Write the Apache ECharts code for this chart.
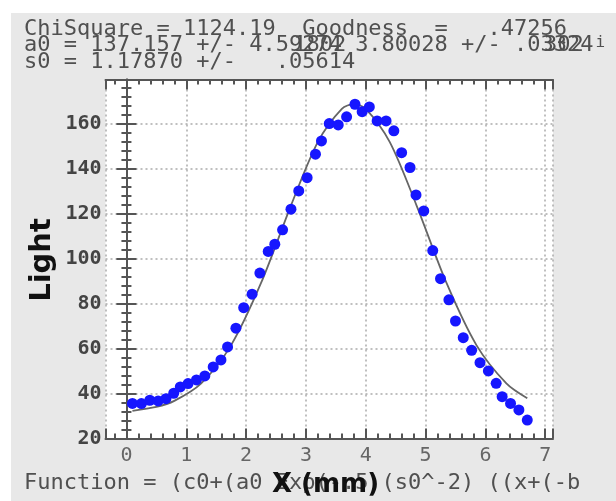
<!DOCTYPE html>
<html>
<head>
<meta charset="utf-8">
<script src="https://cdn.jsdelivr.net/npm/echarts@6/dist/echarts.min.js"></script>
<style>
  html, body { margin: 0; padding: 0; background: #fff; }
  #main { position: absolute; left: 11px; top: 13px; width: 605px; height: 488px; }
</style>
</head>
<body>
<div id="main"></div>
<script>
// measured points (mm, light)
const xs = [0.10, 0.25, 0.39, 0.53, 0.66, 0.79, 0.90, 1.03, 1.17, 1.31, 1.45, 1.58, 1.69, 1.83, 1.96, 2.10, 2.23,
  2.37, 2.48, 2.61, 2.75, 2.88, 3.02, 3.16, 3.26, 3.39, 3.54, 3.68, 3.82, 3.94, 4.06, 4.19, 4.34, 4.47, 4.60,
  4.74, 4.84, 4.97, 5.12, 5.25, 5.39, 5.50, 5.63, 5.77, 5.91, 6.05, 6.18, 6.28, 6.42, 6.56, 6.70]
const ys = [35.6, 35.5, 37.0, 36.7, 37.7, 40.1, 42.9, 44.4, 46.0, 47.8, 51.8, 54.9, 60.7, 69.0, 78.1, 84.1, 93.5,
  103.1, 106.3, 112.7, 121.9, 130.0, 135.9, 146.3, 152.2, 159.9, 159.3, 162.9, 168.5, 165.2, 167.3, 161.1, 161.1, 156.7, 147.0,
  140.4, 128.2, 121.1, 103.5, 91.0, 81.6, 72.2, 64.8, 59.2, 53.7, 50.0, 44.5, 38.6, 35.6, 32.7, 28.2]

// fitted curve
const fitX = [0.1, 0.5, 0.8, 1.25, 1.75, 2.25, 2.75, 3.2, 3.6, 3.8, 4.0, 4.4, 4.85, 5.35, 5.85, 6.35, 6.7]
const fitY = [32.3, 34.0, 36.7, 44.5, 61.5, 89.1, 123.5, 151.8, 166.5, 168.5, 166.5, 151.8, 123.5, 89.1, 61.5, 44.5, 37.9]

const header = [
  'ChiSquare = 1124.19  Goodness  =   .47256',
  'a0 = 137.157 +/- 4.59274 3.80028 +/- .03324',
  's0 = 1.17870 +/-   .05614'
]
const footer = 'Function = (c0+(a0 Exp(-.5 (s0^-2) ((x+(-b'

const OX = 11, OY = 13
const CW = 13.2 // char width of the header font
const mono = '"DejaVu Sans Mono", monospace'
const txtColor = '#505050'
const axisColor = '#555'

function txt(s, x, y, extra) {
  return {
    type: 'text', left: x - OX, top: y - OY - 11, z: 100,
    style: Object.assign({ text: s, fill: txtColor, font: '22px ' + mono }, extra || {})
  }
}

function xAx(pos, step, len, major) {
  return {
    type: 'value', position: pos, min: -0.35, max: 7.13, minInterval: step, maxInterval: step,
    axisLine: { show: major, lineStyle: { color: axisColor, width: 2 } },
    axisTick: { show: true, inside: true, length: len, lineStyle: { color: axisColor, width: 2 } },
    axisLabel: {
      show: major && pos === 'bottom', color: '#666', fontFamily: mono, fontSize: 20, margin: 7,
      formatter: v => (Math.abs(v - Math.round(v)) < 1e-6 ? String(Math.round(v)) : '')
    },
    splitLine: { show: major && pos === 'bottom', lineStyle: { color: '#aaa', type: [2, 3], width: 1.5 } }
  }
}

function yAx(pos, step, len, major) {
  return {
    type: 'value', position: pos, min: 20, max: 179.5, minInterval: step, maxInterval: step,
    axisLine: { show: major, lineStyle: { color: axisColor, width: 2 } },
    axisTick: { show: true, inside: true, length: len, lineStyle: { color: axisColor, width: 2 } },
    axisLabel: {
      show: major && pos === 'left', color: '#444', fontFamily: mono, fontWeight: 'bold', fontSize: 20, margin: 4,
      formatter: v => (v % 20 === 0 && v <= 160 ? String(v) : '')
    },
    splitLine: { show: major && pos === 'left', lineStyle: { color: '#aaa', type: [2, 3], width: 1.5 } }
  }
}

const chart = echarts.init(document.getElementById('main'))
chart.setOption({
  backgroundColor: '#e8e8e8',
  animation: false,
  grid: { left: 94.5, top: 66.5, right: 63, bottom: 62.5, show: true, backgroundColor: '#fff', borderWidth: 0, outerBoundsMode: 'none' },
  xAxis: [xAx('bottom', 1, 10, true), xAx('bottom', 0.2, 5, false), xAx('top', 1, 10, true), xAx('top', 0.2, 5, false)],
  yAxis: [yAx('left', 20, 10, true), yAx('left', 4, 5, false), yAx('right', 20, 10, true), yAx('right', 4, 5, false)],
  graphic: [
    txt(header[0], 24, 29),
    txt(header[1], 24, 45.5),
    // overprinted digits of the neighbouring field
    txt('1802', 24 + 20.4 * CW, 45.5),
    txt('302', 24 + 39.4 * CW, 45.5),
    txt('i', 24 + 43.3 * CW, 45.5, { font: '16px ' + mono }),
    txt(header[2], 24, 62),
    txt(footer, 24, 483),
    {
      type: 'text', left: 272 - OX, top: 487 - OY - 15, z: 101,
      style: { text: 'X (mm)', fill: '#111', font: 'bold 26px "DejaVu Sans"' }
    },
    {
      type: 'text', x: 42 - OX, y: 260 - OY, rotation: Math.PI / 2, z: 101,
      style: { text: 'Light', fill: '#111', font: 'bold 29px "DejaVu Sans"', align: 'center', verticalAlign: 'middle' }
    }
  ],
  series: [
    {
      type: 'line', xAxisIndex: 0, yAxisIndex: 0, smooth: 0.3, showSymbol: false, z: 2,
      lineStyle: { color: '#666', width: 1.8 },
      data: fitX.map((x, i) => [x, fitY[i]])
    },
    {
      type: 'scatter', xAxisIndex: 0, yAxisIndex: 0, symbol: 'circle', symbolSize: 11, z: 3,
      itemStyle: { color: '#1616ff', opacity: 1 },
      data: xs.map((x, i) => [x, ys[i]])
    }
  ]
})
</script>
</body>
</html>
